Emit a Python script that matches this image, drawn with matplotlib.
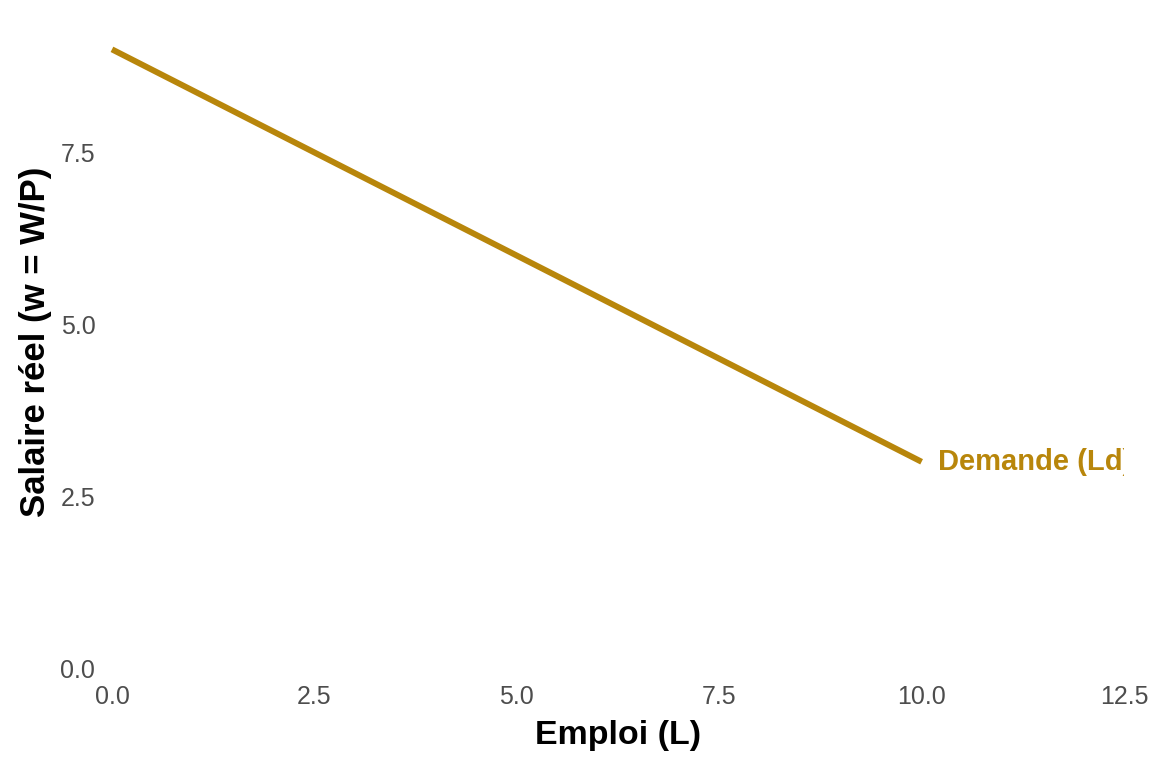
import matplotlib
matplotlib.use("Agg")
import matplotlib.pyplot as plt

plt.rcParams["font.family"] = ["Liberation Sans", "DejaVu Sans"]

# demand curve for labour
emploi = [0, 10]
salaire = [9, 3]
label = "Demande (Ld)"
x_ticks = [0.0, 2.5, 5.0, 7.5, 10.0, 12.5]
y_ticks = [0.0, 2.5, 5.0, 7.5]

color = "#B8860B"

fig = plt.figure(figsize=(11.52, 7.68), dpi=100)
ax = fig.add_axes([0.0972, 0.1302, 0.8785, 0.8503])

ax.plot(emploi, salaire, color=color, linewidth=4.3, solid_capstyle="butt", clip_on=False)
ax.text(emploi[-1] + 0.2, salaire[-1], label, color=color, fontsize=21,
        fontweight="bold", ha="left", va="center", clip_on=True)

ax.set_xlim(0, 12.5)
ax.set_ylim(0, 9.5)
ax.set_xticks(x_ticks)
ax.set_xticklabels([f"{v:.1f}" for v in x_ticks])
ax.set_yticks(y_ticks)
ax.set_yticklabels([f"{v:.1f}" for v in y_ticks])
ax.tick_params(length=0, labelsize=18, labelcolor="#4D4D4D", pad=12)
for s in ax.spines.values():
    s.set_visible(False)

ax.set_xlabel("Emploi (L)", fontsize=24.5, fontweight="bold", labelpad=8)
ax.set_ylabel("Salaire réel (w = W/P)", fontsize=25, fontweight="bold", labelpad=6)

fig.savefig("out.png", dpi=100)
